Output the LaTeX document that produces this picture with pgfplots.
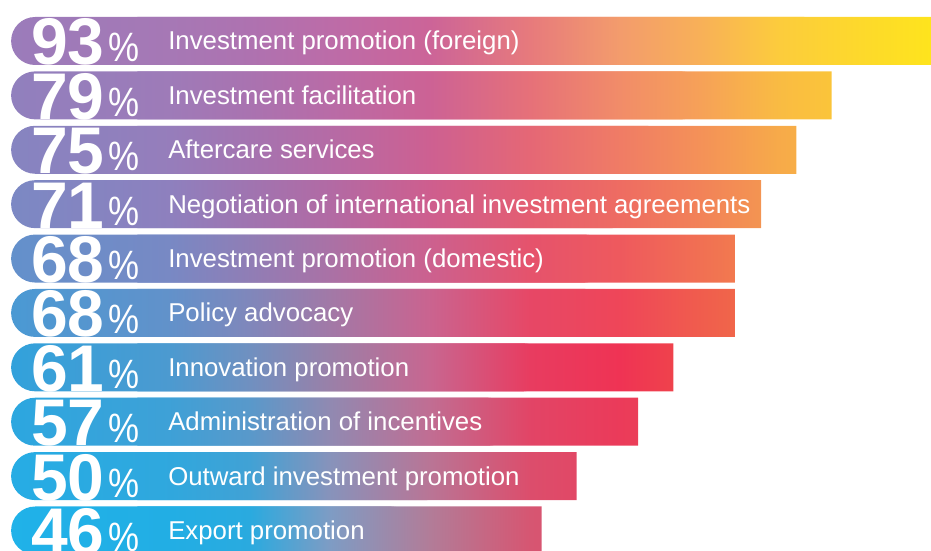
\documentclass[border=0pt]{standalone}
\usepackage{fontspec}
\setmainfont{Liberation Sans}
\usepackage{graphicx}
\usepackage{pgfplots}
\usepackage{pgfplotstable}
\pgfplotsset{compat=1.18}

% colour field: four anchor rows, columns at px 0,170,250,330,430,530,620,700,780,931
\newcommand\rowcols[2]{\def\tmpr{#1}\setrowcols#2\relax}
\def\setrowcols#1,#2,#3,#4,#5,#6,#7,#8,#9,{\definecolor{\tmpr c0}{HTML}{#1}\definecolor{\tmpr c1}{HTML}{#2}%
  \definecolor{\tmpr c2}{HTML}{#3}\definecolor{\tmpr c3}{HTML}{#4}\definecolor{\tmpr c4}{HTML}{#5}%
  \definecolor{\tmpr c5}{HTML}{#6}\definecolor{\tmpr c6}{HTML}{#7}\definecolor{\tmpr c7}{HTML}{#8}%
  \definecolor{\tmpr c8}{HTML}{#9}\setlastcol}
\def\setlastcol#1\relax{\definecolor{\tmpr c9}{HTML}{#1}}
\rowcols{r1}{9A7CBB,A678B5,AE72B0,BC6CA8,CC6498,E77A7C,F39C6C,F8B058,FCCC3C,FEE41D}
\rowcols{r4}{7A89C4,8E80BE,A074B0,B26AA4,CE5E8E,E45E72,EE6C62,F28258,F49A50,F8B840}
\rowcols{r7}{30A2DC,4C9AD0,7090C0,9A80A8,C86690,E83C60,EF3354,EF4A48,F05E40,F28038}
\rowcols{r10}{20B2E9,22AEE4,2AAADF,7E9CC4,B27C98,D65672,E24A66,EA4A5A,EE5850,F06048}

\newcommand\mixrow[4]{%
  \colorlet{#1c0}{#2c0!#4!#3c0}\colorlet{#1c1}{#2c1!#4!#3c1}\colorlet{#1c2}{#2c2!#4!#3c2}%
  \colorlet{#1c3}{#2c3!#4!#3c3}\colorlet{#1c4}{#2c4!#4!#3c4}\colorlet{#1c5}{#2c5!#4!#3c5}%
  \colorlet{#1c6}{#2c6!#4!#3c6}\colorlet{#1c7}{#2c7!#4!#3c7}\colorlet{#1c8}{#2c8!#4!#3c8}%
  \colorlet{#1c9}{#2c9!#4!#3c9}}
\mixrow{r2}{r1}{r4}{67}
\mixrow{r3}{r1}{r4}{33}
\mixrow{r5}{r4}{r7}{67}
\mixrow{r6}{r4}{r7}{33}
\mixrow{r8}{r7}{r10}{67}
\mixrow{r9}{r7}{r10}{33}

% 25bp..75bp of a shading is stretched over the strip
\newcommand\mkshade[1]{%
  \pgfdeclarehorizontalshading{row#1}{100bp}{color(0bp)=(r#1c0); color(25bp)=(r#1c0);
    color(34.13bp)=(r#1c1); color(38.43bp)=(r#1c2); color(42.72bp)=(r#1c3);
    color(48.09bp)=(r#1c4); color(53.46bp)=(r#1c5); color(58.30bp)=(r#1c6);
    color(62.59bp)=(r#1c7); color(66.89bp)=(r#1c8); color(75bp)=(r#1c9); color(100bp)=(r#1c9)}}
\mkshade{1}\mkshade{2}\mkshade{3}\mkshade{4}\mkshade{5}
\mkshade{6}\mkshade{7}\mkshade{8}\mkshade{9}\mkshade{10}

\pgfplotstableread[col sep=comma]{
row,v,label
1,93,Investment promotion (foreign)
2,79,Investment facilitation
3,75,Aftercare services
4,71,Negotiation of international investment agreements
5,68,Investment promotion (domestic)
6,68,Policy advocacy
7,61,Innovation promotion
8,57,Administration of incentives
9,50,Outward investment promotion
10,46,Export promotion
}\data

\newcommand\rowtext[1]{%
  \pgfplotstablegetelem{#1}{v}\of\data\let\rv\pgfplotsretval
  \pgfplotstablegetelem{#1}{label}\of\data\let\rl\pgfplotsretval
  \rlap{\hspace*{31bp}\smash{\raisebox{-15bp}{\fontsize{66bp}{66bp}\selectfont\bfseries\rv}}}%
  \rlap{\hspace*{108bp}\smash{\raisebox{-12bp}{\fontsize{41bp}{41bp}\selectfont\scalebox{0.85}[1]{\%}}}}%
  \hspace*{168bp}\rl}

\begin{document}
\begin{tikzpicture}
\begin{axis}[
  at={(0,0)}, anchor=south west,
  scale only axis, width=931bp, height=551bp,
  xmin=-15.61, xmax=90.31, ymin=0.2463, ymax=10.375,
  y dir=reverse,
  axis line style={draw=none},
  xtick=\empty, ytick={1,...,10},
  major tick length=0pt,
  axis on top,
  yticklabel={\rowtext{\ticknum}},
  yticklabel style={anchor=base west, inner sep=0pt, yshift=-9bp, text=white,
    font=\fontsize{25.8bp}{30bp}\selectfont},
]
\fill[white] (rel axis cs:0,0) rectangle (rel axis cs:1,1);
% black bars, coloured afterwards by the screen-blended strips
\addplot[xbar, bar shift=0pt, bar width=48bp, fill=black, draw=none] table[x=v, y=row] {\data};
\addplot[xbar, bar shift=0pt, bar width=48bp, fill=black, draw=none, xshift=-126.2bp,
  rounded corners=24bp] table[x=v, y=row] {\data};
\begin{scope}[blend mode=screen]
\pgfplotsinvokeforeach{1,...,10}{
  \path[shade, shading=row#1] (axis cs:-15.61,#1-0.5) rectangle (axis cs:90.31,#1+0.5);
}
\end{scope}
\end{axis}
\end{tikzpicture}
\end{document}
